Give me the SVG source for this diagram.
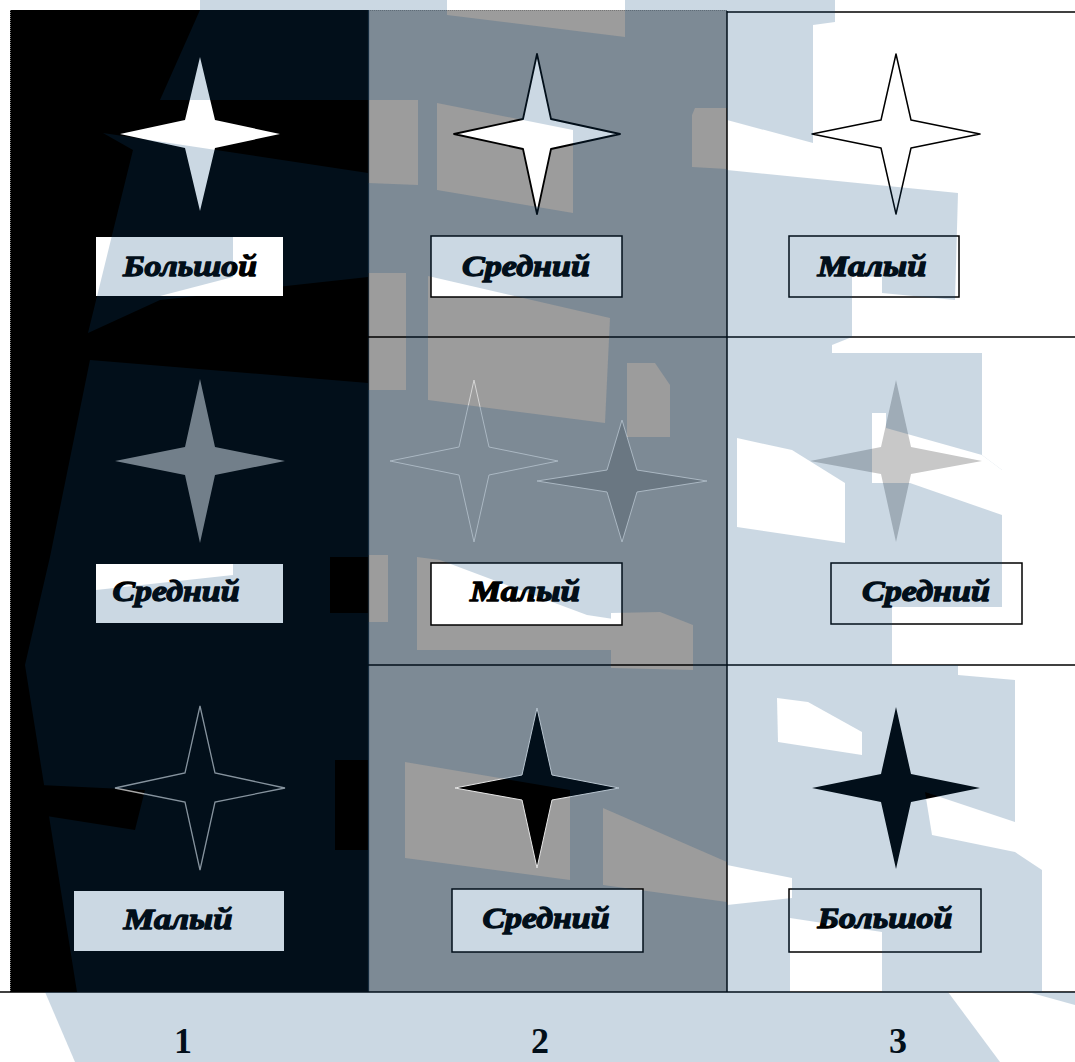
<svg xmlns="http://www.w3.org/2000/svg" width="1075" height="1062" viewBox="0 0 1075 1062">
<style>
.lbl{font-family:"Liberation Serif","Times New Roman",serif;font-weight:bold;font-style:italic;font-size:30px;fill:#000;stroke:#000;stroke-width:1.3px;stroke-linejoin:round;text-anchor:middle}
.num{font-family:"Liberation Serif","Times New Roman",serif;font-weight:bold;font-size:36px;fill:#000;text-anchor:middle}
.bx{fill:#fff}
.bxb{fill:#fff;stroke:#000;stroke-width:1.5}
.grid{stroke:#000;stroke-width:1.5;fill:none}
.dot{stroke:#777;stroke-width:1;stroke-dasharray:1 1;fill:none}
</style>
<defs>
<mask id="wm" maskUnits="userSpaceOnUse" x="0" y="0" width="1075" height="1062">
<rect x="0" y="0" width="1075" height="1062" fill="#fff"/>
<g fill="#000">
<polygon points="0,0 200,0 200,10 10,10 10,992 0,992"/>
<polygon points="447,0 625,0 625,37 447,15"/>
<polygon points="835,0 1075,0 1075,12 835,12"/>
<rect x="10" y="10" width="358" height="982"/>
<rect x="727" y="12" width="348" height="980"/>
<polygon points="368,100 418,100 418,185 368,183"/>
<polygon points="437,103 573,130 573,213 437,190"/>
<polygon points="695,108 727,108 727,169 692,167 692,115"/>
<polygon points="368,273 406,273 406,390 368,390"/>
<polygon points="428,276 610,318 605,423 428,400"/>
<polygon points="627,363 655,363 670,385 670,437 627,437"/>
<polygon points="368,555 388,555 388,622 368,622"/>
<polygon points="417,557 440,560 587,615 620,620 611,650 417,650"/>
<polygon points="611,613 660,612 693,625 693,670 611,668"/>
<polygon points="405,762 570,790 570,880 405,858"/>
<polygon points="603,808 727,862 727,902 603,885"/>
<polygon points="0,992 45,992 75,1062 0,1062"/>
<polygon points="948,992 1028,992 1075,1005 1075,1062 1000,1062"/>
</g>
<g fill="#fff">
<polygon points="200,10 368,10 368,100 160,100"/>
<polygon points="103,133 368,173 368,277 160,300 88,333 133,150"/>
<polygon points="90,360 368,383 368,992 77,992 25,665 40,600 50,557"/>
<polygon points="727,12 835,12 835,22 813,25 813,143 727,120"/>
<polygon points="727,170 958,193 955,300 882,293 882,277 852,276 852,337 832,345 832,353 982,353 982,455 1002,470 1002,607 892,607 892,665 727,665"/>
<polygon points="727,665 958,665 958,675 1015,680 1015,852 1042,870 1042,992 727,992"/>
</g>
<g fill="#000">
<polygon points="233,237 283,237 283,296 160,296 233,277"/>
<polygon points="96,564 233,564 233,575 96,590"/>
<polygon points="330,557 368,557 368,613 330,613"/>
<polygon points="40,785 145,790 135,830 40,815"/>
<polygon points="335,760 368,760 368,850 335,850"/>
<polygon points="737,438 792,450 845,483 845,543 737,527"/>
<polygon points="872,413 886,413 886,428 982,455 1002,470 1002,515 910,483 872,483"/>
<polygon points="777,698 808,702 862,732 862,755 778,742"/>
<polygon points="925,792 1015,822 1015,852 932,835"/>
<polygon points="727,865 792,878 792,898 727,905"/>
<polygon points="790,918 882,932 882,992 790,992"/>
</g>
</mask>
</defs>

<g id="background">
<rect x="0" y="0" width="1075" height="1062" fill="#fff"/>
<rect x="10" y="10" width="358" height="982" fill="#000"/>
<rect x="368" y="10" width="359" height="982" fill="#9c9c9c"/>
</g>

<g id="grid">
<line class="dot" x1="10.5" y1="10" x2="10.5" y2="992"/>
<line class="dot" x1="368" y1="10.5" x2="727" y2="10.5"/>
<line x1="368.5" y1="10" x2="368.5" y2="992" stroke="#1a2630" stroke-width="1.2"/>
<line class="grid" x1="727" y1="11" x2="727" y2="992"/>
<line class="grid" x1="727" y1="12" x2="1075" y2="12"/>
<line class="grid" x1="368" y1="337" x2="1075" y2="337"/>
<line class="grid" x1="368" y1="665" x2="1075" y2="665"/>
<line class="grid" x1="0" y1="992" x2="1075" y2="992" stroke-width="2"/>
</g>

<g id="cell-1-1">
<polygon points="200,57 215,120 280,134 215,148 200,211 185,148 120,134 185,120" fill="#fff"/>
<rect class="bx" x="96" y="237" width="187" height="59"/>
<text class="lbl" x="190" y="276" textLength="134" lengthAdjust="spacingAndGlyphs">Большой</text>
</g>
<g id="cell-2-1">
<polygon points="537,54 551,119 620,134 551,149 537,214 523,149 454,134 523,119" fill="#fff" stroke="#000" stroke-width="1.8" stroke-linejoin="round"/>
<rect class="bxb" x="431" y="236" width="191" height="61"/>
<text class="lbl" x="526" y="276" textLength="128" lengthAdjust="spacingAndGlyphs">Средний</text>
</g>
<g id="cell-3-1">
<polygon points="896,54 911,120 980,134 911,148 896,214 881,148 812,134 881,120" fill="#fff" stroke="#000" stroke-width="1.5" stroke-linejoin="round"/>
<rect class="bxb" x="789" y="236" width="170" height="61"/>
<text class="lbl" x="872" y="276" textLength="109" lengthAdjust="spacingAndGlyphs">Малый</text>
</g>
<g id="cell-1-2">
<polygon points="200,379 215,447 285,461 215,475 200,543 185,475 115,461 185,447" fill="#8e8e8e"/>
<rect class="bx" x="96" y="564" width="187" height="59"/>
<text class="lbl" x="176" y="601" textLength="127" lengthAdjust="spacingAndGlyphs">Средний</text>
</g>
<g id="cell-2-2">
<polygon points="474,380 489,447 558,461 489,475 474,542 459,475 390,461 459,447" fill="none" stroke="#d6d6d6" stroke-width="1"/>
<polygon points="622,420 637,470 707,481 637,492 622,542 607,492 537,481 607,470" fill="#858585" stroke="#d6d6d6" stroke-width="1"/>
<rect class="bxb" x="431" y="563" width="191" height="62"/>
<text class="lbl" x="525" y="601" textLength="110" lengthAdjust="spacingAndGlyphs">Малый</text>
</g>
<g id="cell-3-2">
<polygon points="896,380 911,447 982,461 911,474 896,542 881,474 810,461 881,447" fill="#c8c8c8"/>
<rect class="bxb" x="831" y="563" width="191" height="61"/>
<text class="lbl" x="926" y="601" textLength="128" lengthAdjust="spacingAndGlyphs">Средний</text>
</g>
<g id="cell-1-3">
<polygon points="200,706 215,773 285,788 215,802 200,870 185,802 115,788 185,773" fill="none" stroke="#a8a8a8" stroke-width="1.3"/>
<rect class="bx" x="74" y="891" width="210" height="60"/>
<text class="lbl" x="178" y="929" textLength="109" lengthAdjust="spacingAndGlyphs">Малый</text>
</g>
<g id="cell-2-3">
<polygon points="537,708 552,775 619,788 552,800 537,868 522,800 455,788 522,775" fill="#000" stroke="#e6e6e6" stroke-width="1"/>
<rect class="bxb" x="452" y="889" width="191" height="63" stroke="#1a2630"/>
<text class="lbl" x="546" y="928" textLength="127" lengthAdjust="spacingAndGlyphs">Средний</text>
</g>
<g id="cell-3-3">
<polygon points="896,707 911,774 980,788 911,802 896,869 881,802 812,788 881,774" fill="#000"/>
<rect class="bxb" x="789" y="889" width="192" height="63"/>
<text class="lbl" x="885" y="928" textLength="135" lengthAdjust="spacingAndGlyphs">Большой</text>
</g>

<g id="column-numbers">
<text class="num" x="183" y="1053">1</text>
<text class="num" x="540" y="1053">2</text>
<text class="num" x="898" y="1053">3</text>
</g>

<g id="connectors"></g>

<g id="watermark">
<rect x="0" y="0" width="1075" height="1062" fill="rgb(9,70,125)" fill-opacity="0.21" mask="url(#wm)"/>
</g>
</svg>
